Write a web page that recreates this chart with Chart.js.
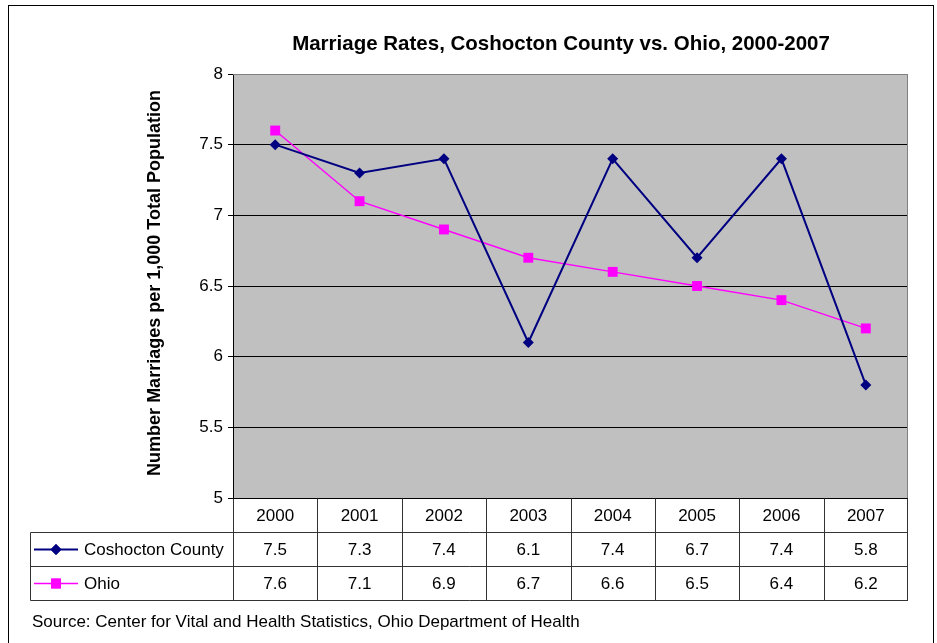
<!DOCTYPE html>
<html>
<head>
<meta charset="utf-8">
<title>Marriage Rates, Coshocton County vs. Ohio, 2000-2007</title>
<script src="https://cdn.jsdelivr.net/npm/chart.js@4.4.1/dist/chart.umd.min.js"></script>
<style>
  html, body { margin: 0; padding: 0; background: #fff; }
  #wrap { width: 937px; height: 643px; position: relative; }
</style>
</head>
<body>
<div id="wrap"><canvas id="marriageChart"></canvas></div>
<script>
const years = ['2000', '2001', '2002', '2003', '2004', '2005', '2006', '2007'];
const coshocton = [7.5, 7.3, 7.4, 6.1, 7.4, 6.7, 7.4, 5.8];
const ohio = [7.6, 7.1, 6.9, 6.7, 6.6, 6.5, 6.4, 6.2];
const seriesNames = ['Coshocton County', 'Ohio'];
const yTicks = [5, 5.5, 6, 6.5, 7, 7.5, 8];

const NAVY = '#000080';
const MAGENTA = '#FF00FF';
const FONT = '"Liberation Sans", Arial, sans-serif';

const chartTitle = 'Marriage Rates, Coshocton County vs. Ohio, 2000-2007';
const yTitle = 'Number Marriages per 1,000 Total Population';
const sourceNote = 'Source: Center for Vital and Health Statistics, Ohio Department of Health';

// background, plot area, titles, data table and source line
const excelLook = {
  id: 'excelLook',
  beforeDraw(chart) {
    const { ctx, chartArea: a } = chart;
    ctx.save();
    ctx.fillStyle = '#fff';
    ctx.fillRect(0, 0, chart.width, chart.height);
    ctx.strokeStyle = '#000';
    ctx.lineWidth = 1;
    ctx.strokeRect(8.5, 5.5, 925, 700);
    ctx.fillStyle = '#C0C0C0';
    ctx.fillRect(a.left, a.top, a.right - a.left, a.bottom - a.top);
    ctx.restore();
  },
  afterDraw(chart) {
    const { ctx, chartArea: a } = chart;
    const x = chart.scales.x;
    ctx.save();

    // plot area border: gray top/right
    ctx.strokeStyle = '#808080';
    ctx.lineWidth = 1;
    ctx.beginPath();
    ctx.moveTo(a.left, a.top + 0.5);
    ctx.lineTo(a.right - 0.5, a.top + 0.5);
    ctx.lineTo(a.right - 0.5, a.bottom);
    ctx.stroke();

    // chart title
    ctx.fillStyle = '#000';
    ctx.font = 'bold 20.5px ' + FONT;
    ctx.textAlign = 'center';
    ctx.textBaseline = 'middle';
    ctx.fillText(chartTitle, 561, 44);

    // y axis title
    ctx.save();
    ctx.translate(155, 283);
    ctx.rotate(-Math.PI / 2);
    ctx.font = 'bold 18px ' + FONT;
    ctx.fillText(yTitle, 0, 0);
    ctx.restore();

    // data table
    const colW = (a.right - a.left) / years.length;
    const rowH = 34;
    const top = Math.round(a.bottom) + 0.5;
    const tableLeft = 30.5;
    ctx.strokeStyle = '#333';
    ctx.lineWidth = 1;
    ctx.beginPath();
    for (let r = 1; r <= 3; r++) {
      const yy = top + r * rowH;
      ctx.moveTo(tableLeft, yy);
      ctx.lineTo(a.right, yy);
    }
    for (let c = 0; c <= years.length; c++) {
      const xx = Math.round(a.left + c * colW) + 0.5 - (c === years.length ? 1 : 0);
      ctx.moveTo(xx, top);
      ctx.lineTo(xx, top + 3 * rowH);
    }
    ctx.moveTo(tableLeft, top + rowH);
    ctx.lineTo(tableLeft, top + 3 * rowH);
    ctx.stroke();

    ctx.font = '17px ' + FONT;
    ctx.fillStyle = '#000';
    ctx.textAlign = 'center';
    const rows = [coshocton, ohio];
    years.forEach((yr, i) => {
      const cx = x.getPixelForValue(i);
      ctx.fillText(yr, cx, top + rowH / 2 + 1);
      rows.forEach((vals, r) => {
        ctx.fillText(vals[i].toFixed(1), cx, top + rowH * (r + 1.5) + 1);
      });
    });

    // legend keys inside table
    const styles = [
      { color: NAVY, shape: 'rectRot', radius: 5.5, width: 2 },
      { color: MAGENTA, shape: 'rect', radius: 7, width: 1.5 }
    ];
    seriesNames.forEach((name, r) => {
      const cy = top + rowH * (r + 1.5);
      const s = styles[r];
      ctx.strokeStyle = s.color;
      ctx.lineWidth = s.width;
      ctx.beginPath();
      ctx.moveTo(34, cy);
      ctx.lineTo(78, cy);
      ctx.stroke();
      ctx.fillStyle = s.color;
      Chart.helpers.drawPoint(ctx, { pointStyle: s.shape, radius: s.radius, borderWidth: 0, rotation: 0 }, 56, cy);
      ctx.fill();
      ctx.fillStyle = '#000';
      ctx.textAlign = 'left';
      ctx.fillText(name, 84, cy + 1);
    });

    // source note
    ctx.textAlign = 'left';
    ctx.fillText(sourceNote, 32, 622);
    ctx.restore();
  }
};

const ctx = document.getElementById('marriageChart');
new Chart(ctx, {
  type: 'line',
  data: {
    labels: years,
    datasets: [
      {
        label: seriesNames[0],
        data: coshocton,
        borderColor: NAVY,
        backgroundColor: NAVY,
        borderWidth: 2,
        pointStyle: 'rectRot',
        pointRadius: 5.5,
        pointBorderWidth: 0,
        tension: 0
      },
      {
        label: seriesNames[1],
        data: ohio,
        borderColor: MAGENTA,
        backgroundColor: MAGENTA,
        borderWidth: 1.5,
        pointStyle: 'rect',
        pointRadius: 7,
        pointBorderWidth: 0,
        tension: 0
      }
    ]
  },
  options: {
    animation: false,
    responsive: true,
    maintainAspectRatio: false,
    layout: {
      padding: { left: 0, right: 29, top: 74, bottom: 145 }
    },
    plugins: {
      legend: { display: false },
      title: { display: false },
      tooltip: { enabled: false }
    },
    scales: {
      x: {
        display: false,
        offset: true
      },
      y: {
        min: 5,
        max: 8,
        afterFit(scale) { scale.width = 233; },
        afterBuildTicks(scale) { scale.ticks = yTicks.map(v => ({ value: v })); },
        border: { color: '#000', width: 1 },
        grid: {
          color: c => c.tick && c.tick.value === 8 ? '#808080' : '#000',
          tickColor: '#000',
          tickLength: 5,
          drawTicks: true
        },
        ticks: {
          color: '#000',
          padding: 5,
          font: { family: FONT, size: 17 },
          callback: v => String(v)
        }
      }
    }
  },
  plugins: [excelLook]
});
</script>
</body>
</html>
